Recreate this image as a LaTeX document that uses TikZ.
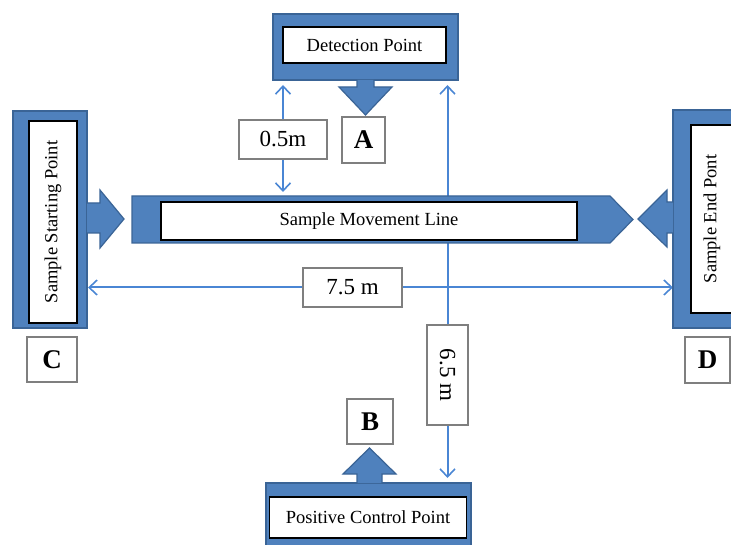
\documentclass[tikz,border=0pt]{standalone}
\usepackage{fontspec}
\setmainfont{Liberation Serif}
\usetikzlibrary{arrows.meta,backgrounds}
\definecolor{fillblue}{HTML}{4F81BD}
\definecolor{edgeblue}{HTML}{3A6496}
\definecolor{dimblue}{HTML}{4A86D4}
\definecolor{tagedge}{HTML}{7F7F7F}
\begin{document}
\begin{tikzpicture}[x=1pt,y=-1pt,
  frame/.style={draw=edgeblue,fill=fillblue,line width=1.5pt,inner sep=0pt,outer sep=0pt},
  plate/.style={draw=black,fill=white,line width=1.8pt,inner sep=0pt,outer sep=0pt,font=\fontsize{18.5}{22}\selectfont},
  tag/.style={draw=tagedge,fill=white,line width=1.2pt,inner sep=0pt,outer sep=0pt,font=\fontsize{23}{27}\selectfont},
  letter/.style={tag,font=\fontsize{27}{32}\selectfont\bfseries},
  blockarrow/.style={draw=edgeblue,fill=fillblue,line width=1.2pt,line join=miter},
  dim/.style={draw=dimblue,line width=2pt,{Straight Barb[length=8pt,width=15pt,line width=1.6pt]}-{Straight Barb[length=8pt,width=15pt,line width=1.6pt]}}]
\useasboundingbox (0,0) rectangle (731,545);
\clip (0,0) rectangle (731,545);
\node[frame,minimum width=185pt,minimum height=66pt] (detect) at (365.5,47) {};
\node[plate,minimum width=163pt,minimum height=36pt] (detecttxt) at (364.5,45) {Detection Point};
\draw[blockarrow] (357,80) -- (357,87) -- (339,87) -- (365.5,115) -- (392,87) -- (374,87) -- (374,80);
\node[frame,minimum width=74pt,minimum height=217pt] (start) at (50,219.5) {};
\node[plate,rotate=90,minimum width=202pt,minimum height=48pt] (starttxt) at (53,222) {Sample Starting Point};
\draw[blockarrow] (87,203) -- (100,203) -- (100,190) -- (124,219) -- (100,248) -- (100,233) -- (87,233);
\node[frame,minimum width=72pt,minimum height=218pt] (endf) at (709,219) {};
\node[plate,rotate=90,minimum width=188pt,minimum height=42pt] (endtxt) at (712,219) {Sample End Pont};
\draw[blockarrow] (673,202) -- (667,202) -- (667,190) -- (638,219) -- (667,247) -- (667,233) -- (673,233);
\node[frame,minimum width=205pt,minimum height=80pt] (positive) at (368.5,523) {};
\node[plate,minimum width=197pt,minimum height=41pt] (positivetxt) at (368,517.5) {Positive Control Point};
\draw[blockarrow] (357,483) -- (357,474) -- (343,474) -- (369.5,448) -- (396,474) -- (382,474) -- (382,483);
\coordinate (mvnw) at (132,196);
\coordinate (mvne) at (610,196);
\coordinate (mvtip) at (633,219.5);
\coordinate (mvse) at (610,243);
\coordinate (mvsw) at (132,243);
\draw[blockarrow] (mvnw) -- (mvne) -- (mvtip) -- (mvse) -- (mvsw) -- cycle;
\node[plate,minimum width=416pt,minimum height=38pt] (movetxt) at (369,221) {Sample Movement Line};
\node[tag,minimum width=88pt,minimum height=39pt] (half) at (283,139.5) {0.5m};
\node[tag,minimum width=99pt,minimum height=39pt] (seven) at (352.5,287.5) {7.5 m};
\node[tag,rotate=-90,minimum width=100pt,minimum height=41pt] (six) at (447.5,375) {6.5 m};
\node[letter,minimum width=43pt,minimum height=46pt] (A) at (363.5,140) {A};
\node[letter,minimum width=46pt,minimum height=45pt] (B) at (370,421.5) {B};
\node[letter,minimum width=50pt,minimum height=45pt] (C) at (52,359.5) {C};
\node[letter,minimum width=45pt,minimum height=46pt] (D) at (707.5,360) {D};
\begin{pgfonlayer}{background}
\draw[dim,shorten <=5pt,shorten >=4pt] (detect.south -| half) -- (mvnw -| half);
\draw[dim,shorten <=5pt,shorten >=5pt] (detect.south -| six) -- (positive.north -| six);
\draw[dim,shorten <=1pt] (start.east |- seven) -- (endf.west |- seven);
\end{pgfonlayer}
\end{tikzpicture}
\end{document}
